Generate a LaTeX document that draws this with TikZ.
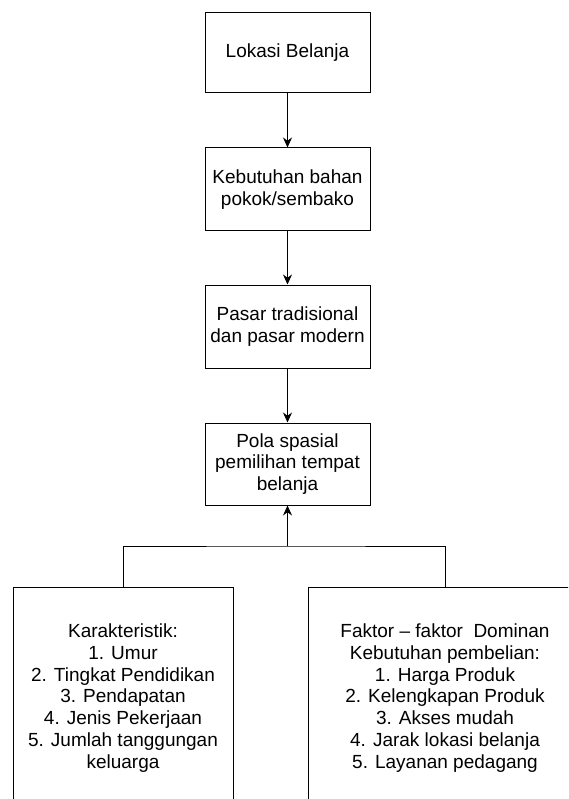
\documentclass[tikz,border=0pt]{standalone}
\usepackage{fontspec}
\setmainfont{Liberation Sans}
\usetikzlibrary{arrows.meta}

\begin{document}
\begin{tikzpicture}[x=1pt,y=-1pt,
  kotak/.style={draw,line width=1pt,align=center,inner sep=0pt,font=\fontsize{19}{21.7}\selectfont},
  panah/.style={line width=1pt,-{Stealth[length=10pt,width=9pt]}}]
  \useasboundingbox (0,0) rectangle (568,799);
  \clip (0,0) rectangle (568,799);
  \node[kotak,minimum width=165pt,minimum height=80pt] (lokasi) at (287.5,53) {Lokasi Belanja};
  \node[kotak,minimum width=165pt,minimum height=83pt] (kebutuhan) at (287.5,189.5) {Kebutuhan bahan\\pokok/sembako};
  \node[kotak,minimum width=165pt,minimum height=83pt] (pasar) at (287.5,326.5) {Pasar tradisional\\dan pasar modern};
  \node[kotak,minimum width=165pt,minimum height=82pt] (pola) at (287.5,464) {Pola spasial\\pemilihan tempat\\belanja};
  \node[kotak,minimum width=220pt,minimum height=222pt] (karakter) at (123,698) {Karakteristik:\\1. Umur\\2. Tingkat Pendidikan\\3. Pendapatan\\4. Jenis Pekerjaan\\5. Jumlah tanggungan\\keluarga};
  \node[kotak,minimum width=274pt,minimum height=222pt] (faktor) at (445,698) {Faktor – faktor\ \ Dominan\\Kebutuhan pembelian:\\1. Harga Produk\\2. Kelengkapan Produk\\3. Akses mudah\\4. Jarak lokasi belanja\\5. Layanan pedagang};
  \coordinate (gabung) at (287.5,546);
  \draw[panah] (lokasi) -- (kebutuhan);
  \draw[panah] (kebutuhan) -- (pasar);
  \draw[panah] (pasar) -- (pola);
  \draw[line width=1pt] (karakter.north) |- (gabung) -| (faktor.north);
  \draw[panah] (gabung) -- (pola);
\end{tikzpicture}
\end{document}
